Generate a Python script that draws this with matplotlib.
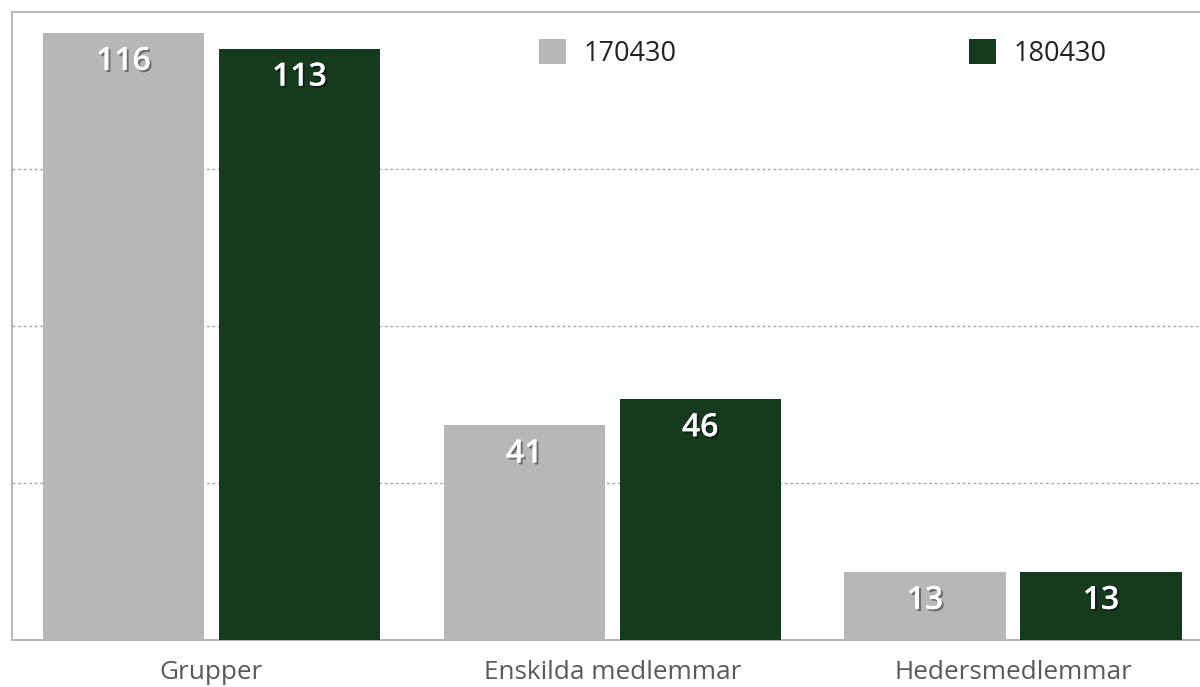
import matplotlib
matplotlib.use("Agg")
import matplotlib.pyplot as plt
import matplotlib.patheffects as pe
import numpy as np

categories = ["Grupper", "Enskilda medlemmar", "Hedersmedlemmar"]
series_names = ["170430", "180430"]
values_170430 = [116, 41, 13]
values_180430 = [113, 46, 13]
colors = ["#b7b7b7", "#163a1e"]
gridticks = [30, 60, 90]

W, H = 1200, 687
fig = plt.figure(figsize=(W / 100, H / 100), dpi=100)
ax = fig.add_axes([12 / W, (H - 640) / H, (W - 12) / W, 628 / H])

x = np.arange(len(categories))
bw = 0.402
off = 0.2196
b1 = ax.bar(x - off, values_170430, bw, color=colors[0], label=series_names[0], zorder=3)
b2 = ax.bar(x + off, values_180430, bw, color=colors[1], label=series_names[1], zorder=3)

ax.set_ylim(0, 120)
ax.set_xlim(-0.4978, 2.4666)
ax.set_yticks(gridticks)
ax.yaxis.grid(True, color="#a8a8a8", linestyle=(0, (2, 2)), linewidth=1.0, zorder=0)
ax.tick_params(axis="y", left=False, labelleft=False)
ax.set_xticks(x)
ax.set_xticklabels(categories, fontsize=18.8, color="#595959", family="Open Sans")
ax.tick_params(axis="x", bottom=False, pad=11)

for s in ["left", "top", "bottom"]:
    ax.spines[s].set_color("#b5b5b5")
    ax.spines[s].set_linewidth(1.4)
ax.spines["right"].set_visible(False)

shadow = [pe.withSimplePatchShadow(offset=(1.5, -1.5), shadow_rgbFace="black", alpha=0.4), pe.Normal()]
for bars in (b1, b2):
    for rect in bars:
        h = rect.get_height()
        ax.annotate(f"{int(h)}", (rect.get_x() + rect.get_width() / 2, h),
                    xytext=(0, -20.5), textcoords="offset points",
                    ha="center", va="center", fontsize=23, fontweight="semibold",
                    family="Open Sans", color="white", path_effects=shadow, zorder=4)

leg = ax.legend(ncol=2, loc="center left", bbox_to_anchor=(539 / W, 1 - 53.5 / H),
                bbox_transform=fig.transFigure, frameon=False, borderaxespad=0, borderpad=0,
                handlelength=1.0, handleheight=1.0, handletextpad=0.65, columnspacing=10.8,
                prop={"family": "Open Sans", "size": 19.5})
for t in leg.get_texts():
    t.set_color("#222222")

fig.savefig("out.png", dpi=100)
